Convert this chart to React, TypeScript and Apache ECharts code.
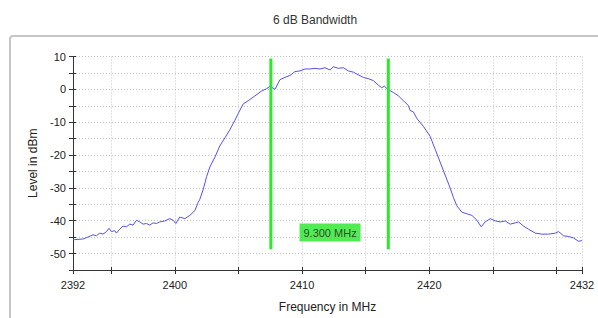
import React, { useEffect, useRef } from 'react';
import * as echarts from 'echarts';

// Frequency (MHz) of each trace sample
const freqMHz = [
  2392.0, 2392.13, 2392.79, 2393.18, 2393.57, 2393.84, 2394.10, 2394.36, 2394.63, 2394.83,
  2395.02, 2395.28, 2395.41, 2395.67, 2395.93, 2396.20, 2396.46, 2396.72, 2396.99, 2397.25,
  2397.51, 2397.77, 2398.03, 2398.29, 2398.56, 2398.82, 2399.21, 2399.61, 2399.87, 2400.08,
  2400.39, 2400.79, 2401.18, 2401.58, 2401.83, 2401.97, 2402.23, 2402.50, 2402.76, 2403.15,
  2403.54, 2403.94, 2404.33, 2404.73, 2404.98, 2405.38, 2405.77, 2406.30, 2406.82, 2407.22,
  2407.48, 2407.87, 2408.26, 2408.66, 2409.05, 2409.44, 2409.84, 2410.23, 2410.62, 2411.02,
  2411.41, 2411.80, 2412.20, 2412.46, 2412.85, 2413.24, 2413.64, 2414.03, 2414.42, 2414.82,
  2415.21, 2415.60, 2416.00, 2416.26, 2416.47, 2416.74, 2417.18, 2417.57, 2417.96, 2418.36,
  2418.49, 2418.75, 2419.02, 2419.54, 2420.06, 2420.46, 2420.85, 2421.24, 2421.64, 2421.90,
  2422.16, 2422.56, 2422.95, 2423.35, 2423.74, 2424.08, 2424.39, 2424.79, 2425.18, 2425.57,
  2425.97, 2426.36, 2426.75, 2427.01, 2427.41, 2427.80, 2428.33, 2428.85, 2429.37, 2429.90,
  2430.16, 2430.55, 2430.95, 2431.34, 2431.73, 2432.0,
];

// Level (dBm) of each trace sample
const levelDbm = [
  -45.8, -45.76, -45.56, -44.97, -44.29, -44.58, -43.78, -44.08, -43.31, -42.31,
  -43.31, -43.02, -43.78, -42.60, -41.63, -41.84, -41.04, -41.33, -39.86, -40.36,
  -41.04, -40.83, -41.33, -40.65, -40.83, -40.36, -40.06, -39.36, -39.86, -40.83,
  -38.88, -39.36, -38.38, -36.91, -34.46, -33.45, -30.50, -26.57, -23.62, -20.67,
  -17.21, -14.76, -12.31, -9.36, -7.38, -4.43, -3.45, -1.98, -0.50, 0.21,
  0.97, 0.00, 2.95, 3.63, 4.22, 5.40, 5.61, 6.20, 6.20, 6.41,
  6.20, 6.58, 5.90, 6.88, 6.41, 6.58, 5.61, 5.23, 4.43, 3.63,
  3.25, 2.66, 1.27, 0.50, 0.97, 0.00, -0.97, -1.98, -3.45, -4.93,
  -6.41, -6.88, -8.86, -11.31, -14.26, -18.22, -22.14, -26.07, -30.03, -32.98,
  -35.43, -37.41, -37.88, -38.38, -39.86, -41.84, -40.36, -39.36, -40.06, -40.36,
  -40.06, -41.04, -40.65, -40.36, -41.63, -42.60, -43.78, -44.08, -44.08, -43.78,
  -43.31, -44.58, -44.79, -45.26, -46.26, -46.06,
];

// Bandwidth markers (MHz) and their vertical extent (dBm)
const markerFreqs = [2407.55, 2416.78];
const markerTop = 9.4;
const markerBottom = -48.7;
const bandwidthText = '9.300 MHz';
const bandwidthLabelAt = [2412.2, -43.6];

const xTickValues = [2392, 2395, 2400, 2405, 2410, 2415, 2420, 2425, 2430, 2432];
const xLabelValues = [2392, 2400, 2410, 2420, 2432];
const yMin = -55;
const yMax = 10;
const yStep = 5;

const FONT = '"Liberation Sans", Arial, sans-serif';

export default function App() {
  const ref = useRef<HTMLDivElement>(null);
  useEffect(() => {
    if (!ref.current) return;
    const chart = echarts.init(ref.current, undefined, { renderer: 'svg' });
    const trace = freqMHz.map((f, i) => [f, levelDbm[i]]);
    const axisColor = '#333';
    const gridStyle = { type: [1, 2] as any, color: '#c4c4c4', width: 1 };
    chart.setOption({
      animation: false,
      backgroundColor: '#ffffff',
      title: {
        text: '6 dB Bandwidth',
        left: 268,
        top: 9,
        textStyle: { fontSize: 12, fontWeight: 'normal', color: '#333', fontFamily: FONT },
      },
      graphic: [
        {
          type: 'rect',
          z: -10,
          shape: { x: 10, y: 36, width: 600, height: 300, r: 3 },
          style: { fill: '#ffffff', stroke: '#c6c6c6', lineWidth: 2 },
        },
      ],
      grid: { left: 73, right: 16, top: 56.5, bottom: 43 },
      xAxis: [
        {
          type: 'value',
          min: 2392,
          max: 2432,
          name: 'Frequency in MHz',
          nameLocation: 'middle',
          nameGap: 31,
          nameTextStyle: { fontSize: 12, color: '#222', fontFamily: FONT },
          axisLine: { onZero: false, lineStyle: { color: axisColor, width: 1 } },
          axisTick: { customValues: xTickValues, length: 4, lineStyle: { color: axisColor } },
          axisLabel: {
            customValues: xLabelValues,
            margin: 9,
            fontSize: 11,
            color: '#222',
            fontFamily: FONT,
            formatter: (v: number) => String(v),
          },
          splitLine: { show: true, lineStyle: gridStyle },
        },
        {
          type: 'value',
          min: 2392,
          max: 2432,
          position: 'bottom',
          axisLine: { show: false, onZero: false },
          axisTick: { customValues: xTickValues, inside: true, length: 3, lineStyle: { color: axisColor } },
          axisLabel: { show: false },
          splitLine: { show: false },
        },
      ],
      yAxis: [
        {
          type: 'value',
          min: yMin,
          max: yMax,
          interval: yStep,
          name: 'Level in dBm',
          nameLocation: 'middle',
          nameGap: 30,
          nameTextStyle: { fontSize: 12, color: '#222', fontFamily: FONT },
          axisLine: { show: true, onZero: false, lineStyle: { color: axisColor, width: 1 } },
          axisTick: { show: true, length: 4, lineStyle: { color: axisColor } },
          axisLabel: {
            margin: 7,
            fontSize: 11,
            color: '#222',
            fontFamily: FONT,
            formatter: (v: number) => (v % 10 === 0 ? String(v) : ''),
          },
          splitLine: { show: true, lineStyle: gridStyle },
        },
        {
          type: 'value',
          min: yMin,
          max: yMax,
          interval: yStep,
          position: 'left',
          axisLine: { show: false, onZero: false },
          axisTick: { show: true, inside: true, length: 3, lineStyle: { color: axisColor } },
          axisLabel: { show: false },
          splitLine: { show: false },
        },
      ],
      series: [
        {
          type: 'line',
          data: trace,
          symbol: 'none',
          lineStyle: { color: '#5252f2', width: 1 },
          z: 3,
        },
        ...markerFreqs.map((f) => ({
          type: 'line',
          data: [
            [f, markerTop],
            [f, markerBottom],
          ],
          symbol: 'none',
          lineStyle: { color: '#2ee82e', width: 3 },
          z: 4,
        })),
        {
          type: 'scatter',
          data: [bandwidthLabelAt],
          symbol: 'rect',
          symbolSize: [61, 18],
          itemStyle: { color: '#28e628' },
          label: {
            show: true,
            position: 'inside',
            formatter: bandwidthText,
            fontSize: 11,
            color: '#1a1a1a',
            fontFamily: FONT,
          },
          z: 5,
        },
      ],
    });
    return () => chart.dispose();
  }, []);
  return (
    <div
      ref={ref}
      style={{ position: 'fixed', left: 0, top: 0, width: 598, height: 318 }}
    />
  );
}
